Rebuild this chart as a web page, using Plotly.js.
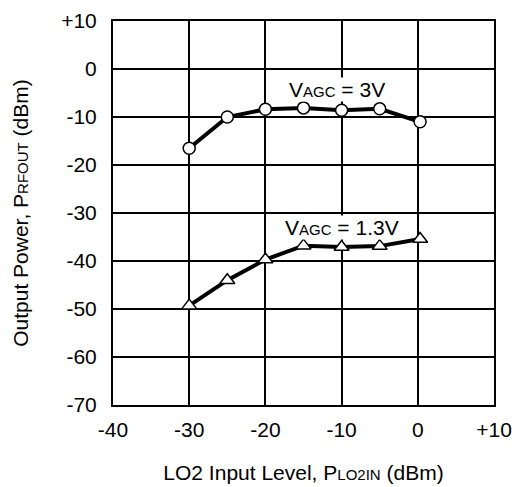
<!DOCTYPE html>
<html>
<head>
<meta charset="utf-8">
<script src="https://cdn.plot.ly/plotly-3.0.1.min.js"></script>
<style>
  html, body { margin: 0; padding: 0; background: #fff; }
  #chart { width: 512px; height: 487px; }
</style>
</head>
<body>
<div id="chart"></div>
<script>
// LO2 input level sweep (dBm)
const loLevel = [-30, -25, -20, -15, -10, -5, 0.3];

// RF output power (dBm) for two AGC control voltages
const pOutAgc3V = [-16.5, -10.0, -8.4, -8.1, -8.6, -8.3, -11.0];
const pOutAgc1p3V = [-49.3, -44.0, -39.7, -36.8, -37.1, -36.9, -35.4];

// Axis ticks
const xTickVals = [-40, -30, -20, -10, 0, 10];
const xTickText = ['-40', '-30', '-20', '-10', '0', '+10'];
const yTickVals = [10, 0, -10, -20, -30, -40, -50, -60, -70];
const yTickText = ['+10', '0', '-10', '-20', '-30', '-40', '-50', '-60', '-70'];

const FONT = 'Liberation Sans, Arial, sans-serif';
const small = (s, px) => '<span style="font-size:' + px + 'px">' + s + '</span>';

const lineStyle = { color: '#000', width: 4 };

const traces = [
  {
    x: loLevel, y: pOutAgc3V, type: 'scatter', mode: 'lines+markers',
    line: lineStyle,
    marker: { symbol: 'circle', size: 12, color: '#fff', line: { color: '#000', width: 1.5 } },
    hoverinfo: 'x+y'
  },
  {
    x: loLevel, y: pOutAgc1p3V, type: 'scatter', mode: 'lines+markers',
    line: lineStyle,
    marker: { symbol: 'triangle-up', size: 13, color: '#fff', line: { color: '#000', width: 1.5 } },
    hoverinfo: 'x+y'
  }
];

const layout = {
  width: 512, height: 487,
  margin: { l: 113, r: 18, t: 21, b: 82 },
  paper_bgcolor: '#fff', plot_bgcolor: '#fff',
  showlegend: false,
  font: { family: FONT, color: '#000', size: 21 },
  xaxis: {
    range: [-40, 10], tickvals: xTickVals, ticktext: xTickText,
    showgrid: true, gridcolor: '#000', gridwidth: 2,
    showline: true, linecolor: '#000', linewidth: 2, mirror: true,
    zeroline: false, ticks: '', ticklabelstandoff: 5,
    tickfont: { size: 21 },
    title: { text: 'LO2 Input Level, P' + small('LO2IN', 15) + ' (dBm)', font: { size: 21 }, standoff: 25 }
  },
  yaxis: {
    range: [-70, 10], tickvals: yTickVals, ticktext: yTickText,
    showgrid: true, gridcolor: '#000', gridwidth: 2,
    showline: true, linecolor: '#000', linewidth: 2, mirror: true,
    zeroline: false, ticks: '', ticklabelstandoff: 10,
    tickfont: { size: 21 },
    title: { text: 'Output Power, P' + small('RFOUT', 15) + ' (dBm)', font: { size: 21 }, standoff: 27 }
  },
  annotations: [
    { x: -10.6, y: -4.2, xref: 'x', yref: 'y', showarrow: false,
      text: 'V' + small('AGC', 15) + ' = 3V', font: { size: 21 }, bgcolor: '#fff', borderpad: 0 },
    { x: -10, y: -33.0, xref: 'x', yref: 'y', showarrow: false,
      text: 'V' + small('AGC', 15) + ' = 1.3V', font: { size: 21 }, bgcolor: '#fff', borderpad: 0 }
  ]
};

Plotly.newPlot('chart', traces, layout, { displayModeBar: false, staticPlot: true });
</script>
</body>
</html>
